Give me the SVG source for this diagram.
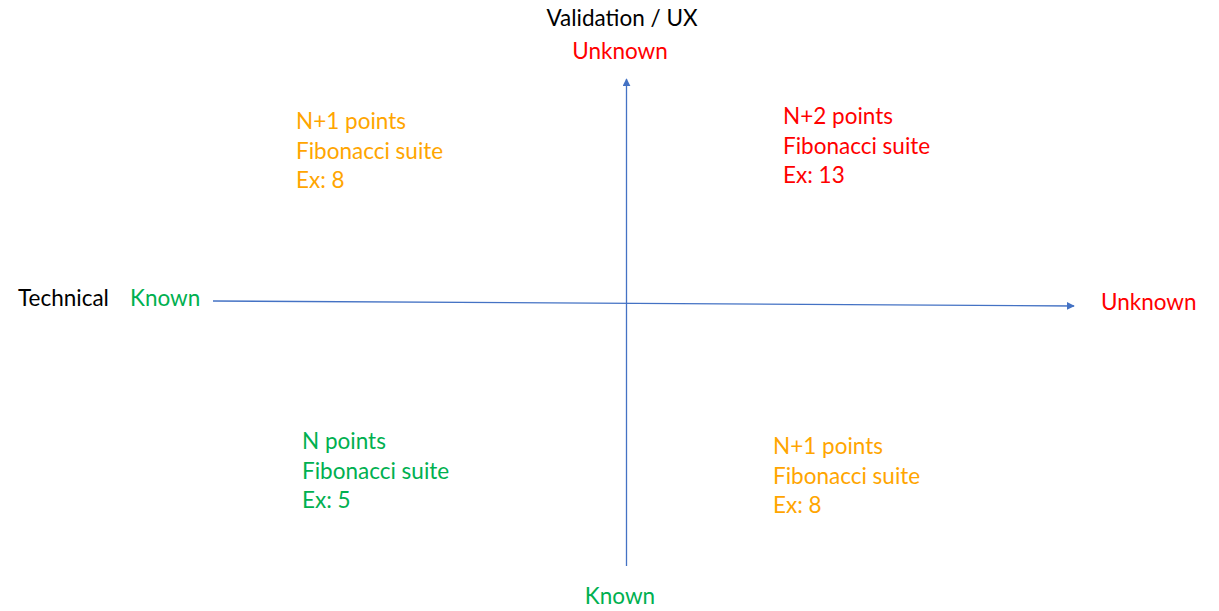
<svg xmlns="http://www.w3.org/2000/svg" width="1219" height="611" viewBox="0 0 1219 611">
<style>
text{font-family:Lato,"Open Sans","Liberation Sans",sans-serif;font-size:22.5px}
.k{fill:#000}
.r{fill:#FF0000}
.g{fill:#00B050}
.o{fill:#FFA500}
.ax{stroke:#4472C4;stroke-width:1.3;fill:none}
</style>
<defs>
<marker id="ah" viewBox="0 0 10 10" refX="9" refY="5" markerWidth="8" markerHeight="8" markerUnits="userSpaceOnUse" orient="auto">
<path d="M0,0 L10,5 L0,10 z" fill="#4472C4"/>
</marker>
</defs>
<rect width="1219" height="611" fill="#fff"/>
<g id="connectors">
<line class="ax" x1="626.5" y1="566" x2="626.5" y2="79" marker-end="url(#ah)"/>
<line class="ax" x1="213" y1="301" x2="1074" y2="306" marker-end="url(#ah)"/>
</g>
<g id="axis-labels">
<text class="k" x="622" y="26" text-anchor="middle">Validation / UX</text>
<text class="r" x="620" y="59" text-anchor="middle">Unknown</text>
<text class="k" x="18" y="306">Technical</text>
<text class="g" x="130" y="306">Known</text>
<text class="r" x="1101" y="310">Unknown</text>
<text class="g" x="620" y="604" text-anchor="middle">Known</text>
</g>
<g id="q-top-left">
<text class="o" x="296" y="129">N+1 points</text>
<text class="o" x="296" y="159">Fibonacci suite</text>
<text class="o" x="296" y="188">Ex: 8</text>
</g>
<g id="q-top-right">
<text class="r" x="783" y="124">N+2 points</text>
<text class="r" x="783" y="154">Fibonacci suite</text>
<text class="r" x="783" y="183">Ex: 13</text>
</g>
<g id="q-bottom-left">
<text class="g" x="302" y="449">N points</text>
<text class="g" x="302" y="479">Fibonacci suite</text>
<text class="g" x="302" y="508">Ex: 5</text>
</g>
<g id="q-bottom-right">
<text class="o" x="773" y="454">N+1 points</text>
<text class="o" x="773" y="484">Fibonacci suite</text>
<text class="o" x="773" y="513">Ex: 8</text>
</g>
</svg>
